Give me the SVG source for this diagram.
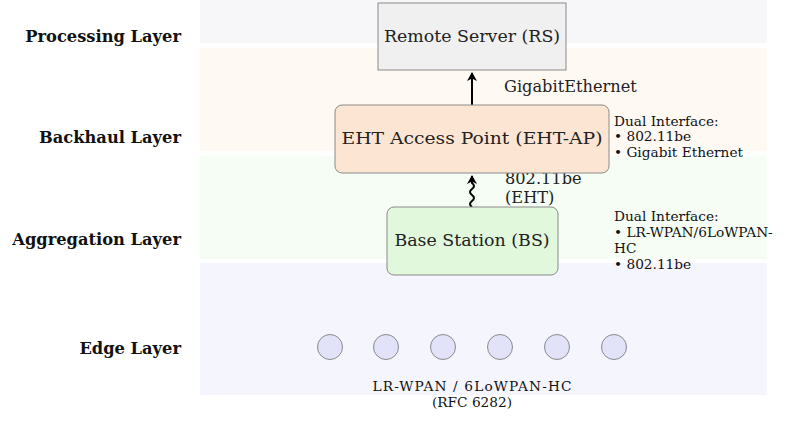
<svg xmlns="http://www.w3.org/2000/svg" width="792" height="421" viewBox="0 0 792 421">
<style>
.lay{font-family:'DejaVu Serif',serif;font-weight:bold;font-size:16.3px;fill:#111;text-anchor:end}
.nl{font-family:'DejaVu Serif',serif;font-size:17.4px;fill:#222;text-anchor:middle}
.sm{font-family:'DejaVu Serif',serif;font-size:13.7px;fill:#111}
.lb{font-family:'DejaVu Serif',serif;font-size:16.2px;fill:#222}
.node{stroke:#8a8a8a;stroke-width:1}
.cn{fill:none;stroke:#000;stroke-width:2}
</style>
<defs>
<marker id="ah" markerWidth="10" markerHeight="10" refX="8" refY="5" orient="auto" markerUnits="userSpaceOnUse">
<path d="M0,0 L9,5 L0,10 L2.5,5 Z" fill="#000"/>
</marker>
</defs>
<rect width="792" height="421" fill="#fff"/>
<g id="bands">
<rect x="200" y="0" width="567" height="43" fill="#f7f7f9"/>
<rect x="200" y="48" width="567" height="103" fill="#fff9f4"/>
<rect x="200" y="156" width="567" height="103" fill="#f5fdf4"/>
<rect x="200" y="263" width="567" height="132" fill="#f5f5fe"/>
</g>
<g id="layer-labels">
<text class="lay" x="181" y="42">Processing Layer</text>
<text class="lay" x="181" y="143">Backhaul Layer</text>
<text class="lay" x="181" y="245">Aggregation Layer</text>
<text class="lay" x="181" y="354">Edge Layer</text>
</g>
<g id="connectors">
<line class="cn" x1="472" y1="105" x2="472" y2="73" marker-end="url(#ah)"/>
<path class="cn" d="M472,207 q-4,-3 0,-6 q4,-3 0,-6 q-4,-3 0,-6 q4,-3 0,-6 L472,176" marker-end="url(#ah)"/>
<path class="cn" d="M472,258 q3,2 0,5 q-2,2 0,5 L472,271" marker-end="url(#ah)"/>
<text class="lb" x="504" y="92">GigabitEthernet</text>
<text class="lb" x="505" y="184">802.11be</text>
<text class="lb" x="505" y="203">(EHT)</text>
</g>
<g id="rs">
<rect class="node" x="378" y="3" width="188" height="67" fill="#f0f0f0"/>
<text class="nl" x="472" y="42">Remote Server (RS)</text>
</g>
<g id="ehtap">
<rect class="node" x="335" y="105" width="274" height="68" rx="7" fill="#fde5d3"/>
<text class="nl" x="472" y="144" textLength="261" lengthAdjust="spacingAndGlyphs">EHT Access Point (EHT-AP)</text>
</g>
<g id="bs">
<rect class="node" x="387" y="207" width="171" height="68" rx="7" fill="#e2f8dd"/>
<text class="nl" x="472" y="246">Base Station (BS)</text>
</g>
<g id="ehtap-note">
<text class="sm" x="614" y="126">Dual Interface:</text>
<text class="sm" x="614" y="141">• 802.11be</text>
<text class="sm" x="614" y="157">• Gigabit Ethernet</text>
</g>
<g id="bs-note">
<text class="sm" x="614" y="221">Dual Interface:</text>
<text class="sm" x="614" y="237">• LR-WPAN/6LoWPAN-</text>
<text class="sm" x="614" y="253">HC</text>
<text class="sm" x="614" y="269">• 802.11be</text>
</g>
<g id="devices">
<circle class="node" cx="330" cy="347" r="12.5" fill="#e2e2f8"/>
<circle class="node" cx="386" cy="347" r="12.5" fill="#e2e2f8"/>
<circle class="node" cx="443" cy="347" r="12.5" fill="#e2e2f8"/>
<circle class="node" cx="500" cy="347" r="12.5" fill="#e2e2f8"/>
<circle class="node" cx="557" cy="347" r="12.5" fill="#e2e2f8"/>
<circle class="node" cx="614" cy="347" r="12.5" fill="#e2e2f8"/>
</g>
<g id="edge-label">
<text class="sm" x="472" y="391" text-anchor="middle" textLength="199" lengthAdjust="spacing">LR-WPAN / 6LoWPAN-HC</text>
<text class="sm" x="472" y="407" text-anchor="middle">(RFC 6282)</text>
</g>
</svg>
